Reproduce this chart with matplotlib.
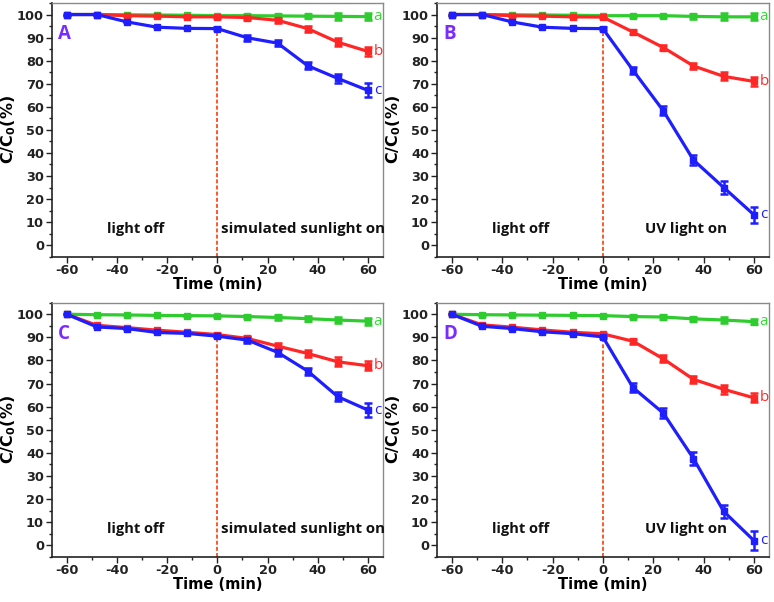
import matplotlib
matplotlib.use("Agg")
import matplotlib.pyplot as plt
from matplotlib.ticker import MultipleLocator

# ---- data ----
time = [-60, -48, -36, -24, -12, 0, 12, 24, 36, 48, 60]

A_a = [100, 100, 99.9, 99.8, 99.7, 99.5, 99.5, 99.4, 99.3, 99.2, 99.1]
A_b = [100, 100, 99.5, 99.3, 99.0, 99.0, 98.7, 97.5, 93.9, 88.0, 84.0]
A_c = [100, 100, 96.8, 94.5, 94.0, 93.9, 89.9, 87.6, 77.8, 72.3, 67.1]
A_a_err = [0, 0, 0, 0, 0, 0.3, 0.8, 0.8, 1.0, 1.5, 1.5]
A_b_err = [0, 0, 0, 0, 0, 0.5, 1.0, 1.2, 1.3, 1.8, 1.8]
A_c_err = [0, 0, 0, 0, 0, 0.5, 1.2, 1.3, 1.5, 2.0, 3.0]

B_a = [100, 100, 99.9, 99.8, 99.7, 99.5, 99.5, 99.5, 99.2, 99.0, 99.0]
B_b = [100, 100, 99.5, 99.3, 99.0, 98.9, 92.4, 85.7, 77.7, 73.2, 71.0]
B_c = [100, 100, 96.8, 94.5, 94.0, 93.9, 75.8, 58.3, 36.9, 25.0, 13.2]
B_a_err = [0, 0, 0, 0, 0, 0.3, 0.5, 0.5, 1.0, 1.5, 1.5]
B_b_err = [0, 0, 0, 0, 0, 0.5, 1.0, 1.2, 1.3, 1.8, 1.8]
B_c_err = [0, 0, 0, 0, 0, 0.5, 1.5, 2.0, 2.0, 3.0, 3.5]

C_a = [100, 99.8, 99.7, 99.5, 99.4, 99.3, 99.0, 98.6, 98.1, 97.5, 97.0]
C_b = [100, 95.2, 94.2, 93.1, 92.2, 91.2, 89.5, 86.2, 83.0, 79.4, 77.7]
C_c = [100, 94.5, 93.8, 92.1, 91.7, 90.5, 88.8, 83.5, 75.4, 64.3, 58.5]
C_a_err = [0, 0, 0, 0, 0, 0.3, 0.8, 1.0, 1.2, 1.5, 1.5]
C_b_err = [0, 0, 0, 0, 0, 0.5, 1.0, 1.2, 1.5, 2.0, 2.0]
C_c_err = [0, 0, 0, 0, 0, 0.5, 1.2, 1.5, 1.5, 2.0, 3.0]

D_a = [100, 99.8, 99.7, 99.6, 99.5, 99.4, 99.0, 98.8, 98.0, 97.5, 96.8]
D_b = [100, 95.4, 94.4, 93.2, 92.2, 91.5, 88.3, 80.7, 71.8, 67.5, 63.8]
D_c = [100, 94.8, 93.8, 92.4, 91.6, 90.2, 68.2, 57.2, 37.5, 14.6, 2.0]
D_a_err = [0, 0, 0, 0, 0, 0.3, 0.8, 0.8, 1.0, 1.2, 1.2]
D_b_err = [0, 0, 0, 0, 0, 0.5, 1.0, 1.5, 1.5, 2.0, 2.0]
D_c_err = [0, 0, 0, 0, 0, 0.5, 2.0, 2.0, 3.0, 3.0, 4.0]

panel_letters = ["A", "B", "C", "D"]
light_labels = ["simulated sunlight on", "UV light on", "simulated sunlight on", "UV light on"]
series_labels = ["a", "b", "c"]

xticks = [-60, -40, -20, 0, 20, 40, 60]
yticks = [0, 10, 20, 30, 40, 50, 60, 70, 80, 90, 100]

panels = [
    (A_a, A_b, A_c, A_a_err, A_b_err, A_c_err),
    (B_a, B_b, B_c, B_a_err, B_b_err, B_c_err),
    (C_a, C_b, C_c, C_a_err, C_b_err, C_c_err),
    (D_a, D_b, D_c, D_a_err, D_b_err, D_c_err),
]

colors = ["#2ECC2E", "#FF2626", "#1E1EFF"]
label_colors = ["#33DD33", "#FF2A2A", "#2020FF"]
letter_color = "#7A2BFF"

fig = plt.figure(figsize=(7.74, 6.02), dpi=100)

W, H = 774, 602
boxes = [
    (51.7, 3.0, 383.0, 256.7),
    (436.7, 3.0, 769.0, 256.7),
    (51.7, 302.7, 383.0, 556.7),
    (436.7, 302.7, 769.0, 556.7),
]

tick_font = dict(family="DejaVu Sans", weight="bold", size=9.3)
plt.rcParams["mathtext.fontset"] = "dejavusans"

for i, (box, data) in enumerate(zip(boxes, panels)):
    l, t, r, b = box
    ax = fig.add_axes([l / W, 1 - b / H, (r - l) / W, (b - t) / H])
    ya, yb, yc, ea, eb, ec = data
    for y, e, c in zip((ya, yb, yc), (ea, eb, ec), colors):
        ax.errorbar(time, y, yerr=e, color=c, lw=2.3, marker="s", ms=4,
                    capsize=3.2, elinewidth=1.8, capthick=1.8)
    # vertical dashed line at t=0
    ax.vlines(0, -5, yc[5], colors="#FF4A1A", linestyles=(0, (2.2, 1.2)), lw=1.3, zorder=1)
    ax.set_xlim(-66, 66)
    ax.set_ylim(-5, 105)
    ax.xaxis.set_minor_locator(MultipleLocator(10))
    ax.yaxis.set_minor_locator(MultipleLocator(5))
    ax.set_xticks(xticks)
    ax.set_yticks(yticks)
    ax.set_xticklabels([str(v) for v in xticks], **tick_font)
    ax.set_yticklabels([str(v) for v in yticks], **tick_font)
    ax.tick_params(which="major", direction="out", length=4, width=1.0, pad=1.5, colors="#222222")
    ax.tick_params(which="minor", direction="out", length=2.5, width=1.0, colors="#222222")
    ax.tick_params(top=False, right=False, which="both")
    for s in ("left", "bottom"):
        ax.spines[s].set_color("#222222")
        ax.spines[s].set_linewidth(1.2)
    for s in ("top", "right"):
        ax.spines[s].set_color("#8a8a8a")
        ax.spines[s].set_linewidth(1.0)
    ax.set_xlabel("Time (min)", family="DejaVu Sans", weight="bold", size=10.5, labelpad=0)
    ax.set_ylabel(r"C/C$_\mathbf{0}$(%)", family="DejaVu Sans", weight="bold", size=11.5)
    ax.yaxis.set_label_coords(-0.102, 0.5)
    # annotations
    ax.text(-63.5, 91.5, panel_letters[i], color=letter_color, family="Open Sans",
            weight="bold", size=13.5, ha="left", va="center")
    ax.text(-32.5, 7, "light off", family="Open Sans", weight="bold", size=10.5,
            ha="center", va="center", color="#111111")
    if i % 2 == 0:
        ax.text(1.3, 7, light_labels[i], family="Open Sans", weight="bold", size=10.8,
                ha="left", va="center", color="#111111")
    else:
        ax.text(33, 7, light_labels[i], family="Open Sans", weight="bold", size=10.8,
                ha="center", va="center", color="#111111")
    for y, lab, lc in zip((ya, yb, yc), series_labels, label_colors):
        ax.text(62.3, y[-1], lab, color=lc, family="Open Sans", size=11,
                ha="left", va="center")

fig.savefig("out.png", dpi=100)
